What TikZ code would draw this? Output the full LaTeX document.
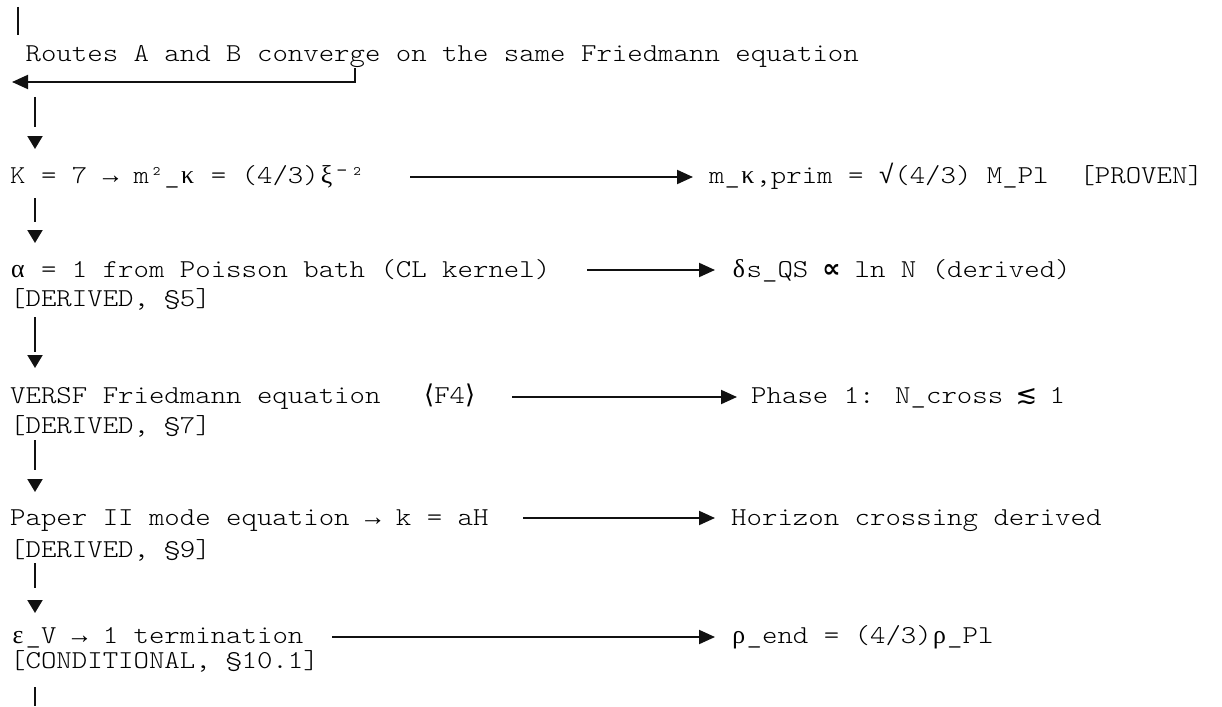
\documentclass[tikz,border=0pt]{standalone}
\usepackage{fontspec}
\usetikzlibrary{arrows.meta,calc}
% thin slab-serif typewriter face, widened to a 0.6em advance
\newfontfamily\typew{lmmonolt10-regular.otf}[FakeStretch=1.14]
\newfontfamily\monosym{DejaVu Sans Mono}
\newfontfamily\thinsym{Liberation Mono}
\newfontfamily\greekfont{Liberation Serif}
\newfontfamily\mathsym{DejaVu Sans}
\newlength\charw \setlength\charw{15.43pt}
\newcommand\greekch[1]{\makebox[\charw][c]{\greekfont #1}}
\newcommand\symch[1]{\makebox[\charw][c]{\monosym #1}}
\newcommand\thinch[1]{\makebox[\charw][c]{\thinsym #1}}
\definecolor{ink}{HTML}{111111}
\begin{document}
\begin{tikzpicture}[x=1pt,y=-1pt,
  txt/.style={anchor=base west, inner sep=0pt, text=black,
              font=\typew\fontsize{25.78}{30}\selectfont},
  bar/.style={draw=ink, line width=2pt},
  flow/.style={draw=ink, line width=2pt, dash pattern=on #1 off 300pt,
               -{Triangle[length=13pt,width=15pt]}},
  rarrow/.style={draw=ink, line width=2pt, line join=miter,
                 -{Triangle[length=16pt,width=14pt]}}]
\useasboundingbox (0,0) rectangle (1222,706);

% left column
\node[txt] (routes) at (25.43,62) {Routes A and B converge on the same Friedmann equation};
\node[txt] (k)     at (10,183) {K = 7 \thinch{→} m²\_\greekch{κ} = (4/3)\greekch{ξ}\symch{⁻}²};
\node[txt] (alpha) at (10,277) {\greekch{α} = 1 from Poisson bath (CL kernel)};
\node[txt] (d5)    at (10,306) {[DERIVED, §5]};
\node[txt] (versf) at (10,403) {VERSF Friedmann equation};
\node[txt] (f4)    at (424,403) {{\mathsym ⟨}F4{\mathsym ⟩}};
\node[txt] (d7)    at (10,433) {[DERIVED, §7]};
\node[txt] (paper) at (10,525) {Paper II mode equation \thinch{→} k = aH};
\node[txt] (d9)    at (10,557) {[DERIVED, §9]};
\node[txt] (eps)   at (10,643) {\greekch{ε}\_V \thinch{→} 1 termination};
\node[txt] (cond)  at (10,668) {[CONDITIONAL, §10.1]};

% right column
\node[txt] (kr)    at (709,183) {m\_\greekch{κ},prim = \thinch{√}(4/3) M\_Pl~~[PROVEN]};
\node[txt] (ar)    at (731,277) {\greekch{δ}s\_QS \makebox[\charw][c]{\mathsym\bfseries ∝} ln N (derived)};
\node[txt] (phase) at (751,403) {Phase 1: N\_cross \makebox[\charw][c]{\mathsym ≲} 1};
\node[txt] (hor)   at (731,525) {Horizon crossing derived};
\node[txt] (rho)   at (731,643) {\greekch{ρ}\_end = (4/3)\greekch{ρ}\_Pl};

% free ends
\coordinate (top)    at (18,7);
\coordinate (ret)    at (12,82);
\coordinate (drop)   at (35,97);
\coordinate (bottom) at (35,706);

% incoming line and the return arrow
\draw[bar] (top) -- ([shift={(-7.43,-27)}]routes.base west);
\draw[rarrow] ([shift={(329.57,6)}]routes.base west) |- (ret);

% main vertical chain
\draw[flow=30pt] (drop) -- ([shift={(25,-34)}]k.base west);
\draw[flow=24pt] ([shift={(25,15)}]k.base west) -- ([shift={(25,-34)}]alpha.base west);
\draw[flow=35pt] ([shift={(25,11)}]d5.base west) -- ([shift={(25,-35)}]versf.base west);
\draw[flow=30pt] ([shift={(25,7)}]d7.base west) -- ([shift={(25,-33)}]paper.base west);
\draw[flow=25pt] ([shift={(25,6)}]d9.base west) -- ([shift={(25,-30)}]eps.base west);
\draw[bar] ([shift={(25,19)}]cond.base west) -- (bottom);

% side results
\draw[rarrow] ([shift={(400,-6)}]k.base west) -- ([shift={(-16,-6)}]kr.base west);
\draw[rarrow] ([shift={(577,-7)}]alpha.base west) -- ([shift={(-16,-7)}]ar.base west);
\draw[rarrow] ([shift={(502,-6)}]versf.base west) -- ([shift={(-14,-6)}]phase.base west);
\draw[rarrow] ([shift={(513,-7)}]paper.base west) -- ([shift={(-16,-7)}]hor.base west);
\draw[rarrow] ([shift={(322,-6)}]eps.base west) -- ([shift={(-16,-6)}]rho.base west);
\end{tikzpicture}
\end{document}
